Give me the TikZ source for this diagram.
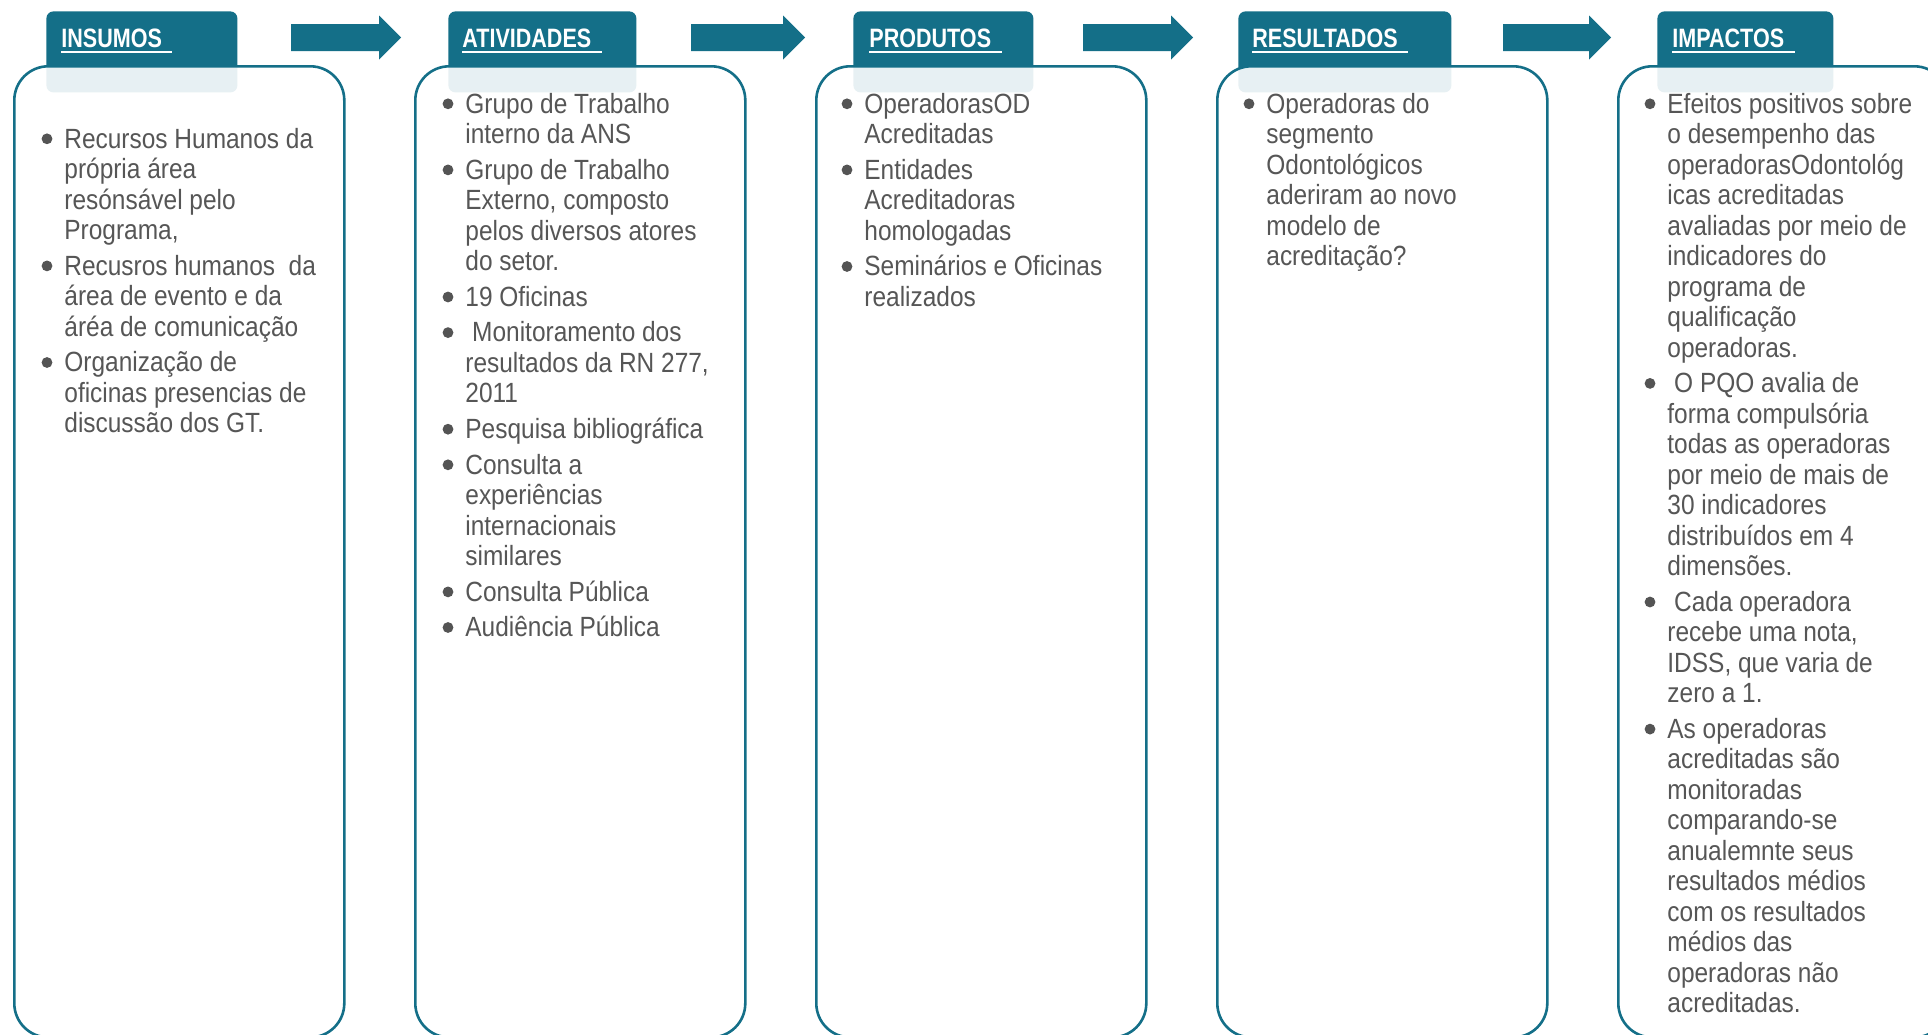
\documentclass[tikz,border=0pt]{standalone}
\usepackage{fontspec}
\setmainfont[FakeStretch=0.88]{Liberation Sans}
\newfontfamily\headfont[FakeStretch=0.81]{Liberation Sans}

\definecolor{framec}{RGB}{20,111,136}
\definecolor{textc}{RGB}{86,86,86}
\definecolor{bulc}{RGB}{84,84,84}

% one bulleted item: lines stacked, baseline of the first line is the node base
\newcommand\lns[1]{\begin{tabular}[t]{@{}l@{}}#1\end{tabular}}
% block arrow starting at a named coordinate: name, start x, shaft length
\newcommand\flowarrow[3]{%
  \coordinate (#1) at (#2,37.5);
  \fill[framec] (#1) ++(0,-13.5) -- ++(#3,0) -- ++(0,-8.5) -- ++(22,22)
    -- ++(-22,22) -- ++(0,-8.5) -- ++(-#3,0) -- cycle;}

\tikzset{
  tabbox/.style={fill=framec, rounded corners=3.5pt, minimum height=40.5pt,
    inner sep=0pt, anchor=north west},
  panel/.style={draw=framec, line width=1.3pt, fill=white, fill opacity=0.9,
    rounded corners=17pt, minimum width=165pt, minimum height=485.5pt,
    inner sep=0pt, anchor=north west},
  headtxt/.style={font=\headfont\bfseries\fontsize{13.3pt}{15pt}\selectfont,
    text=white, inner sep=0pt, anchor=base west},
  uline/.style={draw=white, line width=0.9pt},
  itm/.style={font=\fontsize{13.9pt}{15.25pt}\selectfont, text=textc,
    inner sep=0pt, anchor=base west},
  bulletdot/.style={fill=bulc},
}

\begin{document}
\begin{tikzpicture}[x=0.5pt,y=-0.5pt]
\useasboundingbox (0,0) rectangle (1928,1034);
\fill[white] (0,0) rectangle (1928,1034);
\clip (0,0) rectangle (1928,1034);

% header tabs
\node[tabbox, minimum width=95.5pt]  (t1) at (46,11) {};
\node[tabbox, minimum width=94pt]    (t2) at (448,11) {};
\node[tabbox, minimum width=90pt]    (t3) at (853,11) {};
\node[tabbox, minimum width=106.5pt] (t4) at (1238,11) {};
\node[tabbox, minimum width=88pt]    (t5) at (1657,11) {};

% column panels
\node[panel] (p1) at (13,65) {};
\node[panel] (p2) at (414,65) {};
\node[panel] (p3) at (815,65) {};
\node[panel] (p4) at (1216,65) {};
\node[panel] (p5) at (1617,65) {};

% headings
\node[headtxt] (h1) at (61,47.3)   {INSUMOS\hspace*{5pt}};
\node[headtxt] (h2) at (462,47.3)  {ATIVIDADES\hspace*{5pt}};
\node[headtxt] (h3) at (869,47.3)  {PRODUTOS\hspace*{5pt}};
\node[headtxt] (h4) at (1252,47.3) {RESULTADOS\hspace*{5pt}};
\node[headtxt] (h5) at (1672,47.3) {IMPACTOS\hspace*{5pt}};
\foreach \h in {h1,h2,h3,h4,h5}
  \draw[uline] ([yshift=-2.2pt]\h.base west) -- ([yshift=-2.2pt]\h.base east);

% flow arrows between the stages
\flowarrow{a1}{291}{88}
\flowarrow{a2}{691}{92}
\flowarrow{a3}{1083}{88}
\flowarrow{a4}{1503}{86}

% INSUMOS
\node[itm] (i1a) at (64,148)   {\lns{Recursos Humanos da\\própria área\\resónsável pelo\\Programa,}};
\node[itm] (i1b) at (64,275.1) {\lns{Recusros humanos\ \ da\\área de evento e da\\áréa de comunicação}};
\node[itm] (i1c) at (64,371.7) {\lns{Organização de\\oficinas presencias de\\discussão dos GT.}};

% ATIVIDADES
\node[itm] (i2a) at (465,113)   {\lns{Grupo de Trabalho\\interno da ANS}};
\node[itm] (i2b) at (465,179.1) {\lns{Grupo de Trabalho\\Externo, composto\\pelos diversos atores\\do setor.}};
\node[itm] (i2c) at (465,306.2) {\lns{19 Oficinas}};
\node[itm] (i2d) at (465,341.8) {\lns{\ Monitoramento dos\\resultados da RN 277,\\2011}};
\node[itm] (i2e) at (465,438.4) {\lns{Pesquisa bibliográfica}};
\node[itm] (i2f) at (465,474.0) {\lns{Consulta a\\experiências\\internacionais\\similares}};
\node[itm] (i2g) at (465,601.1) {\lns{Consulta Pública}};
\node[itm] (i2h) at (465,636.7) {\lns{Audiência Pública}};

% PRODUTOS
\node[itm] (i3a) at (864,113)   {\lns{OperadorasOD\\Acreditadas}};
\node[itm] (i3b) at (864,179.1) {\lns{Entidades\\Acreditadoras\\homologadas}};
\node[itm] (i3c) at (864,275.7) {\lns{Seminários e Oficinas\\realizados}};

% RESULTADOS
\node[itm] (i4a) at (1266,113) {\lns{Operadoras do\\segmento\\Odontológicos\\aderiram ao novo\\modelo de\\acreditação?}};

% IMPACTOS
\node[itm] (i5a) at (1667,113)   {\lns{Efeitos positivos sobre\\o desempenho das\\operadorasOdontológ\\icas acreditadas\\avaliadas por meio de\\indicadores do\\programa de\\qualificação\\operadoras.}};
\node[itm] (i5b) at (1667,392.6) {\lns{\ O PQO avalia de\\forma compulsória\\todas as operadoras\\por meio de mais de\\30 indicadores\\distribuídos em 4\\dimensões.}};
\node[itm] (i5c) at (1667,611.2) {\lns{\ Cada operadora\\recebe uma nota,\\IDSS, que varia de\\zero a 1.}};
\node[itm] (i5d) at (1667,738.3) {\lns{As operadoras\\acreditadas são\\monitoradas\\comparando-se\\anualemnte seus\\resultados médios\\com os resultados\\médios das\\operadoras não\\acreditadas.}};

% bullets
\foreach \n in {i1a,i1b,i1c,i2a,i2b,i2c,i2d,i2e,i2f,i2g,i2h,i3a,i3b,i3c,i4a,i5a,i5b,i5c,i5d}
  \fill[bulletdot] ([xshift=-8.5pt,yshift=4.6pt]\n.base west) circle[radius=2.7pt];
\end{tikzpicture}
\end{document}
